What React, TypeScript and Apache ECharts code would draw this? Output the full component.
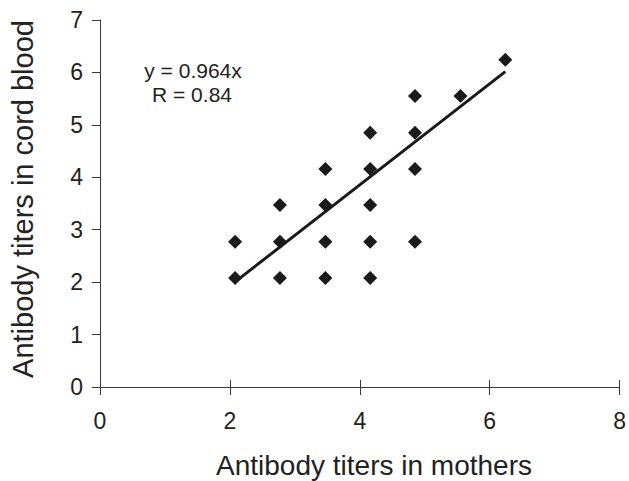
import React, { useEffect, useRef } from "react";
import * as echarts from "echarts";

// ln-transformed titers (ln 8, ln 16, ... ln 512)
const motherTiters = [2.08, 2.08, 2.77, 2.77, 2.77, 3.47, 3.47, 3.47, 3.47, 4.16, 4.16, 4.16, 4.16, 4.16, 4.85, 4.85, 4.85, 4.85, 5.55, 6.24];
const cordTiters = [2.08, 2.77, 2.08, 2.77, 3.47, 2.08, 2.77, 3.47, 4.16, 2.08, 2.77, 3.47, 4.16, 4.85, 2.77, 4.16, 4.85, 5.55, 5.55, 6.24];
const slope = 0.964;
const trendX = [2.08, 6.24];
const xTicks = [0, 2, 4, 6, 8];
const yTicks = [0, 1, 2, 3, 4, 5, 6, 7];
const equationText = "y = 0.964x";
const rText = "R = 0.84";
const xTitle = "Antibody titers in mothers";
const yTitle = "Antibody titers in cord blood";

export default function App() {
  const ref = useRef<HTMLDivElement>(null);
  useEffect(() => {
    if (!ref.current) return;
    const chart = echarts.init(ref.current, null, { renderer: "svg" });
    const font = "Liberation Sans, Arial, Helvetica, sans-serif";
    const axisColor = "#3a3a3a";
    chart.setOption({
      animation: false,
      backgroundColor: "#ffffff",
      grid: { left: 100, right: 8, top: 20, bottom: 94, containLabel: false },
      xAxis: [
        {
          type: "value",
          min: xTicks[0],
          max: xTicks[xTicks.length - 1],
          interval: 2,
          splitLine: { show: false },
          axisLine: { show: true, onZero: false, lineStyle: { color: axisColor, width: 1 } },
          axisTick: { show: true, inside: false, length: 8, lineStyle: { color: axisColor } },
          axisLabel: { color: "#222", fontSize: 23, fontFamily: font, margin: 22 },
        },
        {
          type: "value",
          position: "bottom",
          min: xTicks[0],
          max: xTicks[xTicks.length - 1],
          interval: 2,
          splitLine: { show: false },
          axisLine: { show: false, onZero: false },
          axisTick: { show: true, inside: true, length: 7, lineStyle: { color: axisColor } },
          axisLabel: { show: false },
        },
      ],
      yAxis: {
        type: "value",
        min: yTicks[0],
        max: yTicks[yTicks.length - 1],
        interval: 1,
        splitLine: { show: false },
        axisLine: { show: true, onZero: false, lineStyle: { color: axisColor, width: 1 } },
        axisTick: { show: true, inside: false, length: 8, lineStyle: { color: axisColor } },
        axisLabel: { color: "#222", fontSize: 23, fontFamily: font, margin: 17 },
      },
      series: [
        {
          type: "scatter",
          xAxisIndex: 0,
          data: motherTiters.map((x, i) => [x, cordTiters[i]]),
          symbol: "diamond",
          symbolSize: 14,
          itemStyle: { color: "#1a1a1a", opacity: 1 },
          z: 3,
        },
        {
          type: "line",
          xAxisIndex: 0,
          data: trendX.map((x) => [x, slope * x]),
          showSymbol: false,
          symbol: "none",
          lineStyle: { color: "#1a1a1a", width: 3 },
          z: 2,
        },
      ],
      graphic: [
        {
          type: "text",
          x: 193,
          y: 70,
          style: { text: equationText, fontSize: 21, fontFamily: font, fill: "#222", align: "center", verticalAlign: "middle" },
        },
        {
          type: "text",
          x: 192,
          y: 94,
          style: { text: rText, fontSize: 21, fontFamily: font, fill: "#222", align: "center", verticalAlign: "middle" },
        },
        {
          type: "text",
          x: 374,
          y: 465,
          style: { text: xTitle, fontSize: 28, fontFamily: font, fill: "#222", align: "center", verticalAlign: "middle" },
        },
        {
          type: "text",
          x: 23,
          y: 199,
          rotation: Math.PI / 2,
          style: { text: yTitle, fontSize: 29, fontFamily: font, fill: "#222", align: "center", verticalAlign: "middle" },
        },
      ],
    });
    return () => chart.dispose();
  }, []);
  return <div ref={ref} style={{ width: 629, height: 481, position: "absolute", left: 0, top: 0 }} />;
}
